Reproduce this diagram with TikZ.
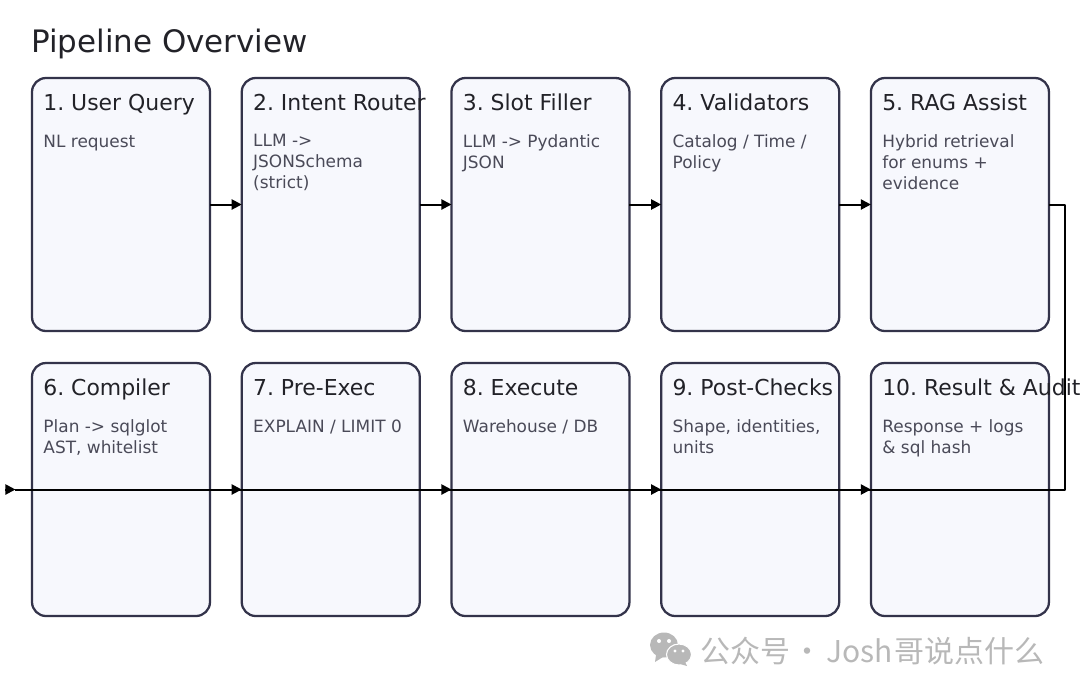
\documentclass[tikz,border=0pt]{standalone}
\usepackage{fontspec}
\setmainfont{DejaVu Sans}
\newfontfamily\cjkfont{Noto Sans CJK SC}
\usetikzlibrary{positioning,arrows.meta}
\definecolor{boxfill}{HTML}{F7F8FD}
\definecolor{boxline}{HTML}{33334A}
\definecolor{headcol}{HTML}{222228}
\definecolor{bodycol}{HTML}{4A4A58}
\definecolor{markcol}{HTML}{B8B8B8}
\frenchspacing
\tikzset{
    stagebox/.style={draw=boxline,fill=boxfill,line width=1.7pt,rounded corners=10.5pt,
        minimum width=133.5pt,minimum height=189.75pt,inner sep=0pt,outer sep=0pt},
    headtxt/.style={anchor=base west,inner sep=0pt,xshift=8.3pt,yshift=-24.1pt,
        text=headcol,font=\fontsize{16.45}{20}\selectfont},
    bodytxt/.style={anchor=north west,inner sep=0pt,xshift=8.4pt,yshift=-42.2pt,align=left,
        text=bodycol,font=\fontsize{12.7}{15.75}\selectfont,execute at begin node=\strut},
    bodyone/.style={bodytxt,yshift=1.5pt},
    link/.style={line width=1.5pt,black}
}
\begin{document}
\begin{tikzpicture}[x=0.75pt,y=-0.75pt,>={Stealth[inset=0pt,length=7.5pt,width=7.5pt]}]
    \useasboundingbox (0,0) rectangle (1080,694);

    % Titulo
    \node[anchor=base west,inner sep=0pt,text=headcol,font=\fontsize{23.2}{28}\selectfont] (title) at (31,52) {Pipeline Overview};

    % Fila superior
    \node[stagebox,anchor=north west] (query) at (32,78) {};
    \node[stagebox,right=23.8pt of query] (router) {};
    \node[stagebox,right=23.8pt of router] (slot) {};
    \node[stagebox,right=23.8pt of slot] (valid) {};
    \node[stagebox,right=23.8pt of valid] (rag) {};

    % Fila inferior
    \node[stagebox,below=24pt of query] (compiler) {};
    \node[stagebox,right=23.8pt of compiler] (preexec) {};
    \node[stagebox,right=23.8pt of preexec] (execute) {};
    \node[stagebox,right=23.8pt of execute] (post) {};
    \node[stagebox,right=23.8pt of post] (result) {};

    % Flechas
    \draw[->,link] (query) -- (router);
    \draw[->,link] (router) -- (slot);
    \draw[->,link] (slot) -- (valid);
    \draw[->,link] (valid) -- (rag);
    \draw[->,link] (compiler) -- (preexec);
    \draw[->,link] (preexec) -- (execute);
    \draw[->,link] (execute) -- (post);
    \draw[->,link] (post) -- (result);

    % Retorno de la fila
    \coordinate (turn) at ([xshift=12pt]result.east);
    \coordinate (entry) at ([xshift=-12.4pt]compiler.west);
    \coordinate (lead) at ([xshift=-20.2pt]compiler.west);
    \draw[link,line join=round] (rag.east) -| (turn) -- (entry);
    \draw[->,link] (lead) -- (entry);

    % Textos
    \node[headtxt] (queryhead) at (query.north west) {1. User Query};
    \node[bodyone] (querybody) at (query.north west) {NL request};
    \node[headtxt] (routerhead) at (router.north west) {2. Intent Router};
    \node[bodytxt] (routerbody) at (router.north west) {LLM -\kern0pt>\\JSONSchema\\(strict)};
    \node[headtxt] (slothead) at (slot.north west) {3. Slot Filler};
    \node[bodytxt] (slotbody) at (slot.north west) {LLM -\kern0pt> Pydantic\\JSON};
    \node[headtxt] (validhead) at (valid.north west) {4. Validators};
    \node[bodytxt] (validbody) at (valid.north west) {Catalog / Time /\\Policy};
    \node[headtxt] (raghead) at (rag.north west) {5. RAG Assist};
    \node[bodytxt] (ragbody) at (rag.north west) {Hybrid retrieval\\for enums +\\evidence};
    \node[headtxt] (compilerhead) at (compiler.north west) {6. Compiler};
    \node[bodytxt] (compilerbody) at (compiler.north west) {Plan -\kern0pt> sqlglot\\AST, whitelist};
    \node[headtxt] (preexechead) at (preexec.north west) {7. Pre-Exec};
    \node[bodyone] (preexecbody) at (preexec.north west) {EXPLAIN / LIMIT 0};
    \node[headtxt] (executehead) at (execute.north west) {8. Execute};
    \node[bodyone] (executebody) at (execute.north west) {Warehouse / DB};
    \node[headtxt] (posthead) at (post.north west) {9. Post-Checks};
    \node[bodytxt] (postbody) at (post.north west) {Shape, identities,\\units};
    \node[headtxt] (resulthead) at (result.north west) {10. Result \& Audit};
    \node[bodytxt] (resultbody) at (result.north west) {Response + logs\\\& sql hash};

    % Marca de agua
    \fill[markcol] (664,645) ellipse (14 and 12.5);
    \fill[markcol] (656,655) -- (655,662) -- (663,657) -- cycle;
    \fill[markcol,draw=white,line width=0.8pt] (679,654.5) ellipse (12.5 and 10.5);
    \fill[markcol] (685,662) -- (687,666) -- (680,664) -- cycle;
    \fill[white] (659,641) circle (2) (669,641) circle (2) (675,651) circle (1.7) (683,651) circle (1.7);
    \node[anchor=base west,inner sep=0pt,text=markcol,font=\cjkfont\fontsize{22.5}{26}\selectfont] (mark) at (700,662) {公众号\kern-3pt{} · \kern-2.4pt Josh\kern1.5pt 哥说点什么};
\end{tikzpicture}
\end{document}
